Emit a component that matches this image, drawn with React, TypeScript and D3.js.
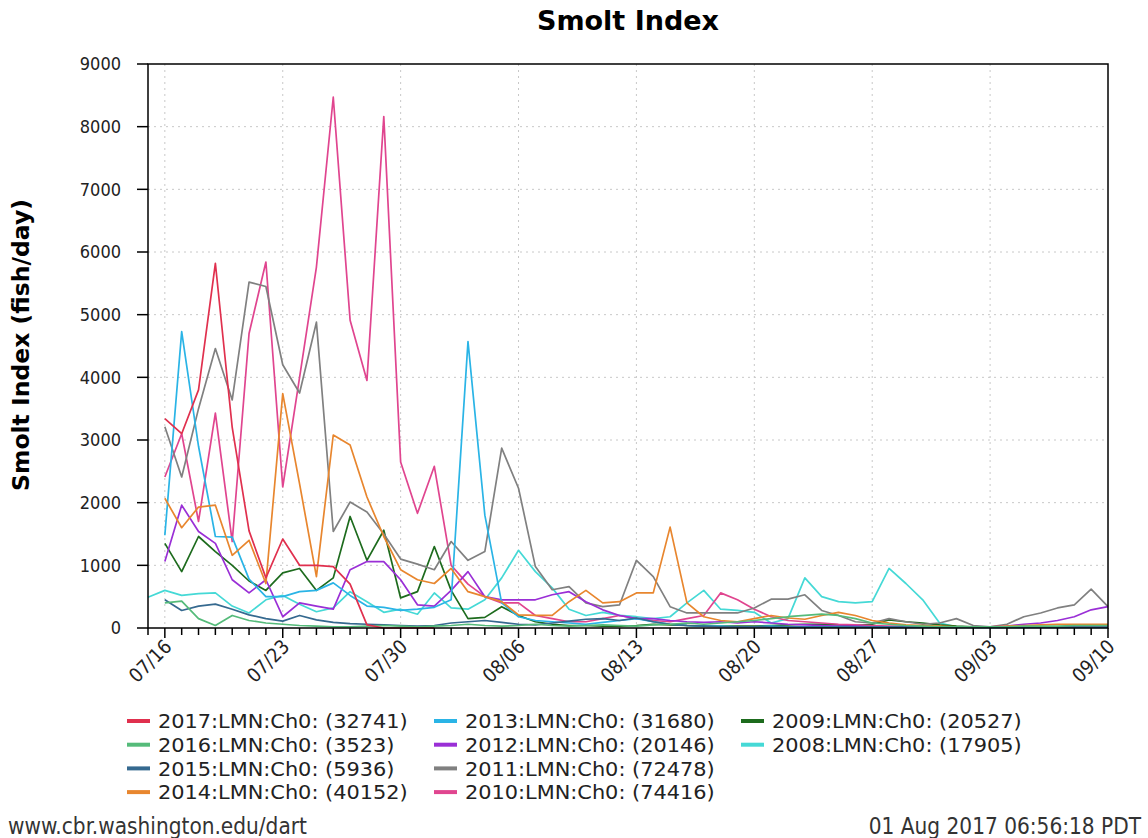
import React from "react";
import * as d3 from "d3";

// x categories: daily, 07/15 .. 09/10
const startDate = new Date(2017, 6, 15);
const endDate = new Date(2017, 8, 10);
const dates = d3.timeDay.range(startDate, new Date(2017, 8, 11));

const yTicks = [0, 1000, 2000, 3000, 4000, 5000, 6000, 7000, 8000, 9000];
const xLabelDates = ["07/16", "07/23", "07/30", "08/06", "08/13", "08/20", "08/27", "09/03", "09/10"];

// series values, index 0 = 07/15
const s2017 = [null, 3340, 3100, 3800, 5820, 3200, 1550, 800, 1420, 1000, 1000, 980, 700, 50, 0, 0, 0, 0];
const s2016 = [null, 400, 430, 150, 40, 200, 120, 80, 60, 40, 30, 20, 20, 30, 40, 30, 20, 30, 40, 60, 40, 30, 40, 60, 40, 30, 40, 50, 40, 30, 50, 60, 80, 60, 80, 100, 120, 150, 180, 200, 220, 200, 150, 80, 60, 40, 30, 20, 20, 20, 20, 20, 30, 30, 30, 40, 40, 40];
const s2015 = [null, 450, 280, 350, 380, 300, 210, 150, 110, 200, 130, 90, 70, 60, 50, 40, 30, 40, 80, 100, 120, 90, 60, 50, 80, 110, 140, 150, 120, 160, 100, 60, 40, 30, 20, 20, 20, 15, 15, 15, 15, 15, 15, 15, 15, 15, 15, 15, 15, 15, 15, 15, 15, 15, 15, 15, 15, 15];
const s2014 = [null, 2070, 1600, 1930, 1960, 1160, 1400, 710, 3740, 2300, 820, 3080, 2920, 2090, 1460, 930, 770, 710, 950, 580, 500, 420, 210, 200, 200, 420, 600, 400, 420, 560, 560, 1610, 400, 180, 120, 100, 150, 200, 160, 140, 200, 250, 200, 120, 80, 50, 40, 30, 20, 20, 20, 30, 40, 50, 60, 60, 60, 60];
const s2013 = [null, 1480, 4730, 2900, 1460, 1450, 780, 500, 500, 580, 600, 720, 520, 350, 330, 280, 300, 330, 450, 4570, 1800, 400, 180, 120, 100, 80, 60, 90, 120, 150, 100, 60, 40, 30, 30, 20, 20, 30, 20, 20, 20, 20, 10, 10, 10, 10, 10, 10, 10, 10, 10, 10, 10, 10, 10, 10, 10, 10];
const s2012 = [null, 1060, 1960, 1540, 1350, 770, 560, 770, 180, 400, 350, 300, 930, 1060, 1060, 770, 370, 350, 600, 900, 500, 450, 450, 450, 530, 580, 420, 290, 200, 150, 150, 120, 100, 90, 100, 80, 100, 80, 60, 50, 40, 30, 30, 20, 20, 20, 20, 20, 20, 20, 20, 30, 60, 80, 120, 180, 290, 340];
const s2011 = [null, 3210, 2410, 3500, 4460, 3640, 5520, 5450, 4200, 3750, 4880, 1540, 2010, 1850, 1500, 1100, 1020, 930, 1380, 1080, 1220, 2870, 2230, 980, 610, 660, 400, 340, 370, 1080, 820, 340, 240, 240, 240, 240, 320, 460, 460, 530, 280, 200, 100, 80, 150, 100, 60, 80, 150, 40, 20, 60, 180, 240, 320, 370, 620, 340];
const s2010 = [null, 2410, 3100, 1700, 3430, 1380, 4700, 5840, 2250, 4000, 5760, 8470, 4910, 3950, 8160, 2650, 1830, 2580, 1000, 700, 500, 400, 400, 200, 150, 100, 100, 150, 200, 150, 120, 100, 150, 200, 560, 450, 300, 180, 120, 100, 80, 60, 50, 40, 30, 30, 20, 20, 20, 20, 20, 20, 20, 20, 20, 20, 20, 20];
const s2009 = [null, 1350, 900, 1460, 1220, 1000, 750, 600, 880, 950, 600, 800, 1780, 1080, 1560, 480, 580, 1300, 600, 150, 170, 340, 200, 100, 60, 40, 40, 30, 30, 40, 60, 50, 40, 30, 30, 30, 30, 40, 50, 60, 60, 50, 40, 60, 130, 100, 80, 50, 30, 20, 20, 20, 20, 20, 20, 20, 20, 20];
const s2008 = [490, 600, 520, 550, 560, 350, 240, 450, 520, 380, 260, 320, 580, 420, 250, 300, 220, 560, 320, 300, 450, 800, 1240, 900, 640, 300, 200, 250, 200, 180, 150, 180, 400, 600, 300, 280, 250, 80, 150, 800, 500, 420, 400, 420, 950, 710, 450, 80, 20, 10, 10, 10, 10, 20, 20, 30, 30, 20];

const seriesNames = [
  "2017:LMN:Ch0: (32741)",
  "2016:LMN:Ch0: (3523)",
  "2015:LMN:Ch0: (5936)",
  "2014:LMN:Ch0: (40152)",
  "2013:LMN:Ch0: (31680)",
  "2012:LMN:Ch0: (20146)",
  "2011:LMN:Ch0: (72478)",
  "2010:LMN:Ch0: (74416)",
  "2009:LMN:Ch0: (20527)",
  "2008:LMN:Ch0: (17905)",
];
const seriesValues = [s2017, s2016, s2015, s2014, s2013, s2012, s2011, s2010, s2009, s2008];
const seriesColors = [
  "#e0304e",
  "#55bb7a",
  "#35698f",
  "#e8862e",
  "#2ab4e6",
  "#9a2fd6",
  "#808080",
  "#e0458f",
  "#1d6b1d",
  "#45d9d6",
];

const W = 1148;
const H = 838;
const L = 148, R = 1108, T = 64, B = 628;

const condensed = "'DejaVu Sans Condensed', 'DejaVu Sans', sans-serif";
const bold = "'DejaVu Sans', Verdana, sans-serif";

export default function App() {
  const x = d3.scaleTime().domain([startDate, endDate]).range([L, R]);
  const y = d3.scaleLinear().domain([0, 9000]).range([B, T]);
  const fmt = d3.timeFormat("%m/%d");
  const line = d3
    .line<number | null>()
    .defined((v) => v !== null && v !== undefined)
    .x((_, i) => x(dates[i]))
    .y((v) => y(v as number));

  const weekly = dates.filter((d) => xLabelDates.includes(fmt(d)));

  return (
    <div style={{ position: "absolute", left: 0, top: 0 }}>
      <svg width={W} height={H} style={{ display: "block", background: "#fff" }}>
        <rect x={0} y={0} width={W} height={H} fill="#fff" />
        <text x={628} y={30} textAnchor="middle" fontFamily={bold} fontWeight="bold" fontSize={27}>
          Smolt Index
        </text>
        {/* grid */}
        {yTicks.slice(1, -1).map((t) => (
          <line key={"gy" + t} x1={L} x2={R} y1={y(t)} y2={y(t)} stroke="#c8c8c8" strokeWidth={1} strokeDasharray="2,4" />
        ))}
        {weekly.slice(0, -1).map((d, i) => (
          <line key={"gx" + i} x1={x(d)} x2={x(d)} y1={T} y2={B} stroke="#c8c8c8" strokeWidth={1} strokeDasharray="2,4" />
        ))}
        {/* series, first listed drawn last */}
        {seriesValues
          .map((vals, i) => ({ vals, i }))
          .reverse()
          .map(({ vals, i }) => (
            <path key={"s" + i} d={line(vals as (number | null)[]) || ""} fill="none" stroke={seriesColors[i]} strokeWidth={1.7} strokeLinejoin="round" />
          ))}
        {/* frame */}
        <rect x={L} y={T} width={R - L} height={B - T} fill="none" stroke="#000" strokeWidth={1.5} />
        {/* y ticks */}
        {yTicks.map((t) => (
          <g key={"yt" + t}>
            <line x1={L - 11} x2={L} y1={y(t)} y2={y(t)} stroke="#000" strokeWidth={1.5} />
            <text x={121} y={y(t)} dy="0.36em" textAnchor="end" fontFamily={condensed} fontSize={18} fill="#222">
              {t}
            </text>
          </g>
        ))}
        {/* x ticks */}
        {dates.map((d, i) => {
          const major = xLabelDates.includes(fmt(d));
          return <line key={"xt" + i} x1={x(d)} x2={x(d)} y1={B} y2={B + (major ? 10 : 7)} stroke="#000" strokeWidth={1.5} />;
        })}
        {weekly.map((d, i) => (
          <text
            key={"xl" + i}
            transform={`translate(${x(d) + 3},${B + 15}) rotate(-45)`}
            textAnchor="end"
            dy="0.36em"
            fontFamily={condensed}
            fontSize={19.5}
            fill="#222"
          >
            {fmt(d)}
          </text>
        ))}
        <text
          transform={`translate(29,${345}) rotate(-90)`}
          textAnchor="middle"
          fontFamily={bold}
          fontWeight="bold"
          fontSize={23.5}
        >
          Smolt Index (fish/day)
        </text>
        {/* legend */}
        {seriesNames.map((name, i) => {
          const col = Math.floor(i / 4);
          const row = i % 4;
          const cx = [127, 434, 741][col];
          const cy = 721 + row * 23.7;
          return (
            <g key={"lg" + i}>
              <line x1={cx} x2={cx + 23} y1={cy} y2={cy} stroke={seriesColors[i]} strokeWidth={4} />
              <text
                transform={`translate(${cx + 31},${cy}) scale(1.16,1)`}
                dy="0.36em"
                fontFamily={condensed}
                fontSize={20}
                fill="#222"
              >
                {name}
              </text>
            </g>
          );
        })}
        <text x={8} y={834} fontFamily={condensed} fontSize={22.4} fill="#333">
          www.cbr.washington.edu/dart
        </text>
        <text x={1141} y={834} textAnchor="end" fontFamily={condensed} fontSize={22.4} fill="#333">
          01 Aug 2017 06:56:18 PDT
        </text>
      </svg>
    </div>
  );
}
